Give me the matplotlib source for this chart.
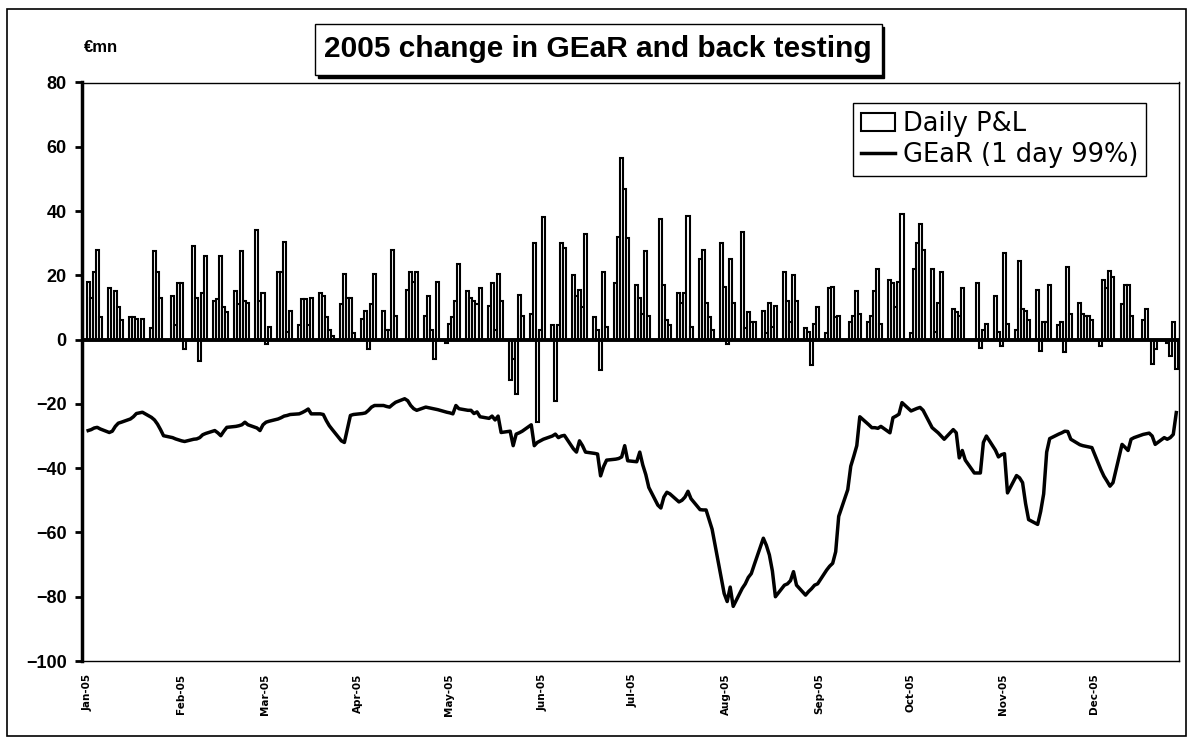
import numpy as np
import pandas as pd
import matplotlib
matplotlib.use('Agg')
import matplotlib.pyplot as plt
import matplotlib.dates as mdates
import matplotlib.transforms as mtransforms
from matplotlib.patches import Rectangle

# Daily P&L (EUR mn), one row per week Mon..Fri, 2005
pnl_weeks = [
    [18, 13, 21, 28, 7], [16, 0, 15, 10, 6], [7, 7, 6.5, 0, 6.5], [3.5, 27.5, 21, 13, 0],
    [13.5, 4.5, 17.5, 17.5, -3], [29, 13, -6.5, 14.5, 26], [12, 12.5, 26, 10, 8.5],
    [15, 11, 27.5, 12, 11.5], [34, 12, 14.5, -1.5, 4], [21, 21, 30.5, 2.5, 9],
    [4.5, 12.5, 12.5, 4.5, 13], [14.5, 13.5, 7, 3, 1], [11, 20.5, 13, 13, 2],
    [6.5, 9, -3, 11, 20.5], [9, 3, 3, 28, 7.5], [0, 15.5, 21, 18, 21],
    [7.5, 13.5, 3, -6, 18], [-1, 5, 7, 12, 23.5], [15, 13, 12, 11, 16],
    [10.5, 17.5, 3, 20.5, 12], [-12.5, -6, -17, 14, 7.5], [8, 30, -25.5, 3, 38],
    [4.5, -19, 4.5, 30, 28.5], [20, 13.5, 15.5, 10, 33], [7, 3, -9.5, 21, 4],
    [17.5, 32, 56.5, 47, 31.5], [17, 13, 8, 27.5, 7.5], [0, 37.5, 17, 6, 4.5],
    [14.5, 11.5, 14.5, 38.5, 4], [25, 28, 11.5, 7, 3], [30, 16.5, -1.5, 25, 11.5],
    [33.5, 3.5, 8.5, 5.5, 5.5], [9, 2, 11.5, 4, 10.5], [21, 12, 5.5, 20, 12],
    [3.5, 2.5, -8, 5, 10], [2, 16, 16.5, 7, 7.5], [0, 5.5, 7.5, 15, 8],
    [5.5, 7.5, 15, 22, 5], [18.5, 17.5, 10, 18, 39], [2, 22, 30, 36, 28],
    [22, 2.5, 11.5, 21, 0], [9.5, 8.5, 7.5, 16, 0], [0, 17.5, -2.5, 3, 5],
    [13.5, 2.5, -2, 27, 5], [3, 24.5, 9.5, 9, 6], [15.5, -3.5, 5.5, 5.5, 17],
    [4.5, 5.5, -4, 22.5, 8], [11.5, 8, 7.5, 7.5, 6], [-2, 18.5, 16, 21.5, 19.5],
    [11, 17, 17, 7.5, 0], [6, 9.5, 0, -7.5, -3], [0, -1, -5, 5.5, -9],
]

# GEaR (1 day 99%), one row per week Mon..Fri
gear_weeks = [
    [-28.3, -28, -27.5, -27.3, -27.8], [-28.9, -28.5, -27, -26, -25.7],
    [-24.7, -24, -23, -22.8, -22.6], [-24.2, -25, -26.3, -28, -29.9],
    [-30.5, -30.9, -31.2, -31.5, -31.7], [-31, -30.9, -30.5, -29.6, -29.2],
    [-28.3, -29, -29.9, -28.5, -27.3], [-27, -26.8, -26.5, -25.7, -26.5],
    [-27.5, -28.3, -26.5, -25.7, -25.4], [-24.7, -24.3, -23.8, -23.6, -23.3],
    [-23.1, -22.7, -22.2, -21.6, -23.1], [-23.1, -23.3, -25.2, -26.8, -28],
    [-31.5, -32, -27.8, -23.6, -23.3], [-23, -22.8, -22, -21, -20.5],
    [-20.5, -20.8, -21, -20.2, -19.5], [-18.4, -19, -20.5, -21.5, -22],
    [-21, -21.2, -21.4, -21.6, -21.8], [-22.6, -22.8, -23.1, -20.5, -21.5],
    [-22, -22, -23, -22.5, -24], [-24.5, -23.8, -25, -23.8, -28.9],
    [-28.5, -33, -29.4, -29, -28.5], [-26.5, -33, -32, -31.5, -31],
    [-30, -29.4, -30.5, -30, -29.8], [-34, -35, -31.5, -33, -35],
    [-35.4, -35.6, -42.4, -39.5, -37.5], [-37.2, -37, -36.5, -33, -37.7],
    [-38, -35, -39, -42, -46], [-51.5, -52.4, -49, -47.5, -48],
    [-50.5, -50, -49, -47.2, -49.5], [-52.9, -53, -53, -56, -59],
    [-74, -79, -81.5, -77, -83], [-77.4, -76, -74, -72.8, -70],
    [-61.8, -64, -67, -72, -80], [-76.4, -76, -75, -72.2, -76.4],
    [-79.5, -78.4, -77.5, -76.4, -76], [-71.7, -70.5, -69.6, -66, -55],
    [-46.7, -39.4, -36.3, -33, -24], [-26.5, -27.4, -27.4, -27.6, -27],
    [-29, -24.3, -23.8, -23.2, -19.6], [-22.2, -21.8, -21.4, -21.1, -22],
    [-27.4, -28.2, -29, -30, -31], [-28, -29, -36.8, -34.5, -37.5],
    [-41.5, -41.5, -41.5, -32, -30], [-34.4, -36.5, -35.8, -35.5, -47.7],
    [-42.3, -43, -44.5, -51, -56], [-57.5, -53.5, -48, -35, -30.8],
    [-29.4, -29, -28.5, -28.6, -31], [-32.7, -33, -33.2, -33.4, -33.6],
    [-40.5, -42.5, -44, -45.6, -44.5], [-32.6, -33.5, -34.5, -31, -30.5],
    [-29.5, -29.3, -29.1, -30, -32.6], [-30.5, -31, -30.5, -29.5, -22.7],
]

y_ticks = [-100, -80, -60, -40, -20, 0, 20, 40, 60, 80]

pnl = np.array(pnl_weeks).ravel()
gear = np.array(gear_weeks).ravel()
days = pd.bdate_range('2005-01-03', periods=len(pnl))

fig = plt.figure(figsize=(11.9, 7.39), dpi=100)
W, H = 1190, 739

def fx(px):
    return px / W

def fy(py):
    return 1 - py / H

ax = fig.add_axes([fx(82), fy(661), fx(1179) - fx(82), fy(82.5) - fy(661)])

bars = ax.bar(days, pnl, width=1.0, facecolor='white', edgecolor='black',
              linewidth=1.5, zorder=2)
ax.axhline(0, color='black', lw=2.8, zorder=3)
line, = ax.plot(days, gear, color='black', lw=2.5, zorder=4)

start = mdates.date2num(pd.Timestamp('2005-01-01'))
ax.set_xlim(start - 0.05, start + 363.9)
ax.set_ylim(-100, 80)
ax.set_yticks(y_ticks)
ax.tick_params(axis='y', direction='out', length=5, width=2, pad=6)
for lab in ax.get_yticklabels():
    lab.set_fontfamily('Liberation Sans')
    lab.set_fontweight('bold')
    lab.set_fontsize(13)

ax.xaxis.set_major_locator(mdates.MonthLocator())
ax.xaxis.set_major_formatter(mdates.DateFormatter('%b-%y'))
ax.tick_params(axis='x', length=0, pad=9)
shift = mtransforms.ScaledTranslation(5 / 100, 0, fig.dpi_scale_trans)
for lab in ax.get_xticklabels():
    lab.set_rotation(90)
    lab.set_fontfamily('DejaVu Sans')
    lab.set_fontweight('bold')
    lab.set_fontsize(7.5)
    lab.set_transform(lab.get_transform() + shift)

for s in ['top', 'right', 'bottom']:
    ax.spines[s].set_linewidth(1.0)
ax.spines['left'].set_linewidth(2.5)

leg = ax.legend([bars, line], ['Daily P&L', 'GEaR (1 day 99%)'],
                loc='upper right', bbox_to_anchor=(fx(1146), fy(103)),
                bbox_transform=fig.transFigure,
                prop={'family': 'DejaVu Sans', 'size': 18.5},
                frameon=True, fancybox=False, edgecolor='black', framealpha=1,
                borderpad=0.3, handlelength=1.35, handletextpad=0.3,
                labelspacing=0.2, borderaxespad=0)
leg.get_frame().set_linewidth(1.0)

# unit label
fig.text(fx(101), fy(47), '€mn', family='Liberation Sans', weight='bold',
         fontsize=12, ha='center', va='center')

# title box with shadow
fig.patches.append(Rectangle((fx(318), fy(78)), fx(884) - fx(318), fy(27) - fy(78),
                             transform=fig.transFigure, facecolor='black',
                             edgecolor='black', zorder=1))
fig.patches.append(Rectangle((fx(315), fy(75)), fx(882) - fx(315), fy(24) - fy(75),
                             transform=fig.transFigure, facecolor='white',
                             edgecolor='black', lw=1.0, zorder=2))
fig.text(fx(598), fy(49), '2005 change in GEaR and back testing',
         family='Liberation Sans', weight='bold', fontsize=21.5,
         ha='center', va='center', zorder=3)

# outer chart border
fig.patches.append(Rectangle((fx(7), fy(736)), fx(1186) - fx(7), fy(9) - fy(736),
                             transform=fig.transFigure, facecolor='none',
                             edgecolor='black', lw=1.2, zorder=0))

plt.savefig('out.png', dpi=100)
